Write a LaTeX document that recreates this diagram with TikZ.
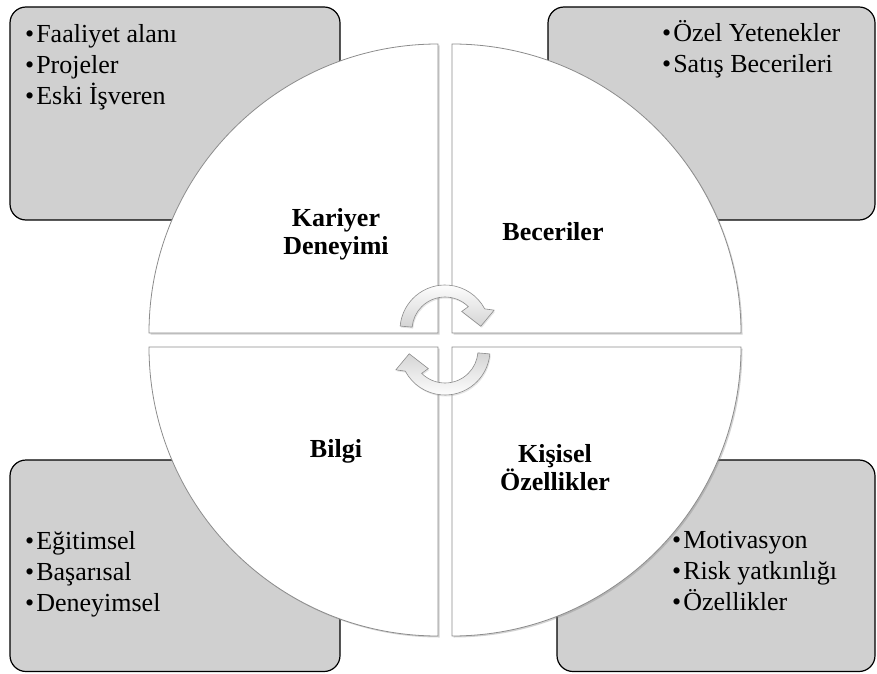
\documentclass[tikz,border=0pt]{standalone}
\usepackage{fontspec}
\setmainfont{Liberation Serif}
\usetikzlibrary{calc,shadows}
\definecolor{BoxClr}{RGB}{208,208,208}
\definecolor{EdgeClr}{RGB}{140,140,140}
\definecolor{TurnClr}{RGB}{212,212,212}

\begin{document}
\begin{tikzpicture}[x=1pt,y=1pt,
  infobox/.style={draw=black,line width=1.2pt,fill=BoxClr,rounded corners=16pt},
  quarter/.style={draw=EdgeClr,line width=0.8pt,fill=white,
    drop shadow={shadow xshift=1.5pt,shadow yshift=-1.5pt,opacity=.35}},
  turn/.style={draw=EdgeClr,line width=0.6pt,
    drop shadow={shadow xshift=1pt,shadow yshift=-1.5pt,opacity=.2}},
  item/.style={anchor=base west,inner sep=0pt,font=\fontsize{26}{31}\selectfont},
  title/.style={align=center,inner sep=0pt,font=\fontsize{26}{27.5}\selectfont\bfseries}]
\useasboundingbox (0,0) rectangle (877,673);

% grey boxes behind the wheel
\draw[infobox] (10,453) rectangle (340,666);
\draw[infobox] (548,453) rectangle (875,666);
\draw[infobox] (10,1.5) rectangle (340,213);
\draw[infobox] (557,1.5) rectangle (875,213);

% the four quarters
\coordinate (O) at (445,333);
\path[quarter] ($(O)+(-7,7)$) -- ++(-289,0) arc[start angle=180,end angle=90,radius=289] -- cycle;
\path[quarter] ($(O)+(7,7)$) -- ++(0,289) arc[start angle=90,end angle=0,radius=289] -- cycle;
\path[quarter] ($(O)+(-7,-7)$) -- ++(0,-289) arc[start angle=270,end angle=180,radius=289] -- cycle;
\path[quarter] ($(O)+(7,-7)$) -- ++(289,0) arc[start angle=0,end angle=-90,radius=289] -- cycle;

% turning arrows in the middle (shading turns with the scope)
\foreach \dy/\rot/\tc/\bc in {10/0/white/TurnClr,-10/180/TurnClr/white}{
  \begin{scope}[shift={($(O)+(0,\dy)$)},rotate=\rot]
    \path[turn,top color=\tc,bottom color=\bc] (175:45) arc[start angle=175,end angle=28,radius=45]
      -- (22:53) -- (6:36) -- (48:25) -- (45:33) arc[start angle=45,end angle=175,radius=33] -- cycle;
  \end{scope}
}

\node[title] (kariyer) at (336,438.7) {Kariyer\\Deneyimi};
\node[title] (beceri) at (553,441.5) {Beceriler};
\node[title] (bilgi) at (336,222) {Bilgi};
\node[title] (kisisel) at (555,205.3) {Kişisel\\Özellikler};

\foreach \txt [count=\i] in {Faaliyet alanı,Projeler,Eski İşveren}
  \node[item] (deneyim\i) at (25,{661-31*\i}) {•\hspace{2pt}\txt};
\foreach \txt [count=\i] in {Özel Yetenekler,Satış Becerileri}
  \node[item] (beceri\i) at (662,{662-31*\i}) {•\hspace{2pt}\txt};
\foreach \txt [count=\i] in {Eğitimsel,Başarısal,Deneyimsel}
  \node[item] (bilgi\i) at (25,{155-31*\i}) {•\hspace{2pt}\txt};
\foreach \txt [count=\i] in {Motivasyon,Risk yatkınlığı,Özellikler}
  \node[item] (kisisel\i) at (672,{156-31*\i}) {•\hspace{2pt}\txt};

\end{tikzpicture}
\end{document}
